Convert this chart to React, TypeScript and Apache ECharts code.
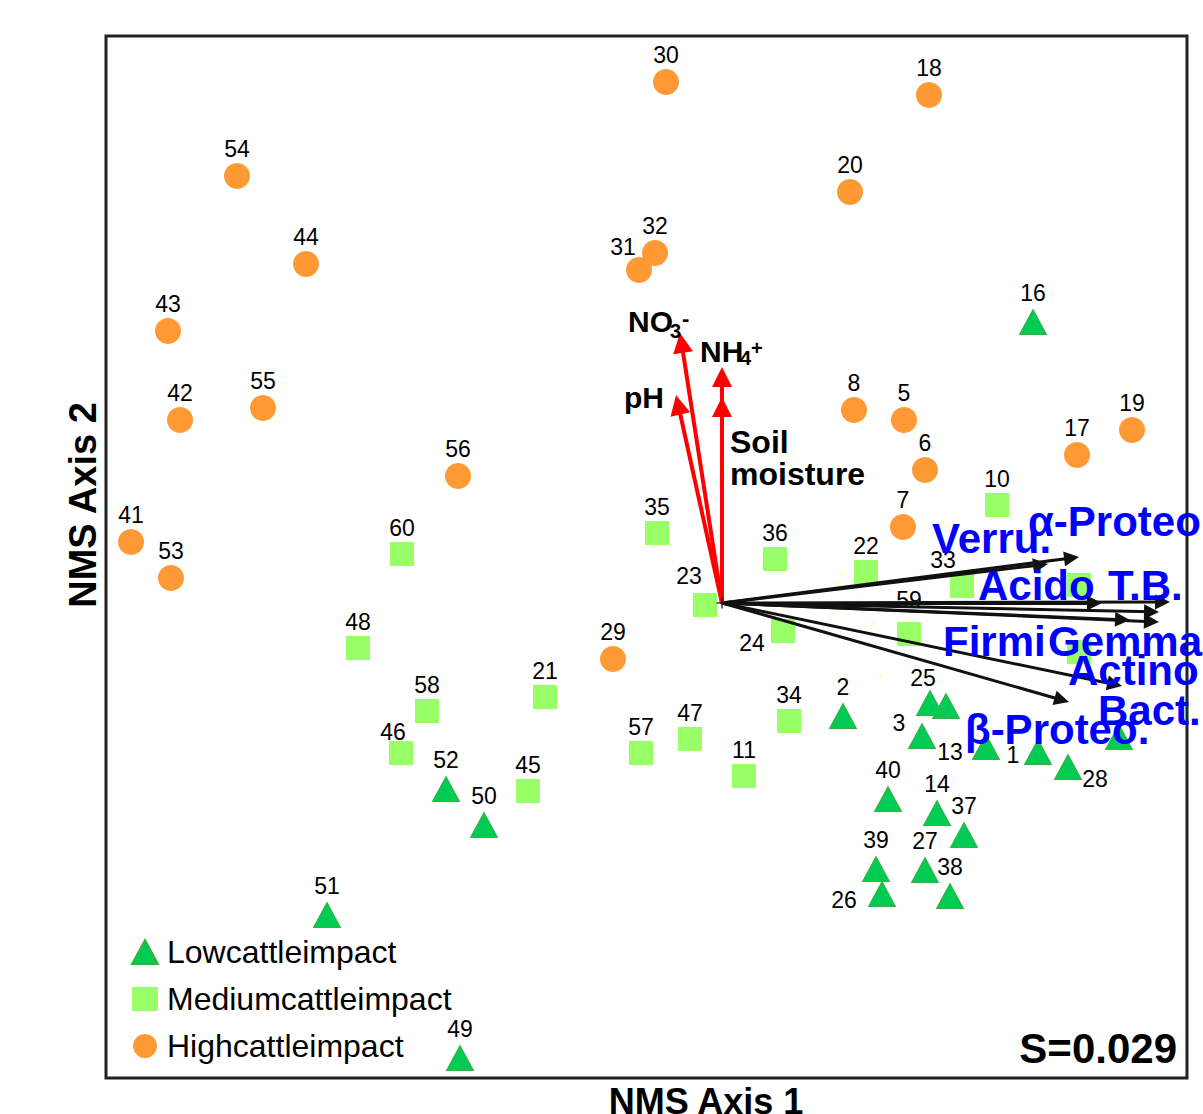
import React, { useEffect, useRef } from 'react';
import * as echarts from 'echarts';

// ---- Sample scores (NMS axis 1, NMS axis 2), id '' = label hidden in the original ----
const lowImpact: [string, number, number][] = [
  ['16', 31.1, 28.1], ['2', 12.1, -11.3], ['', 22.4, -10.3], ['25', 20.8, -10.0],
  ['3', 20.0, -13.3], ['13', 26.4, -14.4], ['1', 31.6, -14.9], ['28', 34.6, -16.4],
  ['', 39.7, -13.4], ['40', 16.6, -19.6], ['14', 21.5, -21.0], ['37', 24.2, -23.2],
  ['39', 15.4, -26.6], ['27', 20.3, -26.7], ['26', 16.0, -29.1], ['38', 22.8, -29.3],
  ['52', -27.6, -18.6], ['50', -23.8, -22.2], ['51', -39.5, -31.2], ['49', -26.2, -45.5],
];
const mediumImpact: [string, number, number][] = [
  ['10', 27.5, 9.8], ['35', -6.5, 7.0], ['60', -32.0, 4.9], ['36', 5.3, 4.4],
  ['22', 14.4, 3.1], ['33', 24.0, 1.7], ['', 35.7, 1.8], ['23', -1.7, -0.2],
  ['24', 6.1, -2.8], ['59', 18.7, -3.1], ['', 35.7, -4.9], ['48', -36.4, -4.5],
  ['21', -17.7, -9.4], ['58', -29.5, -10.8], ['46', -32.1, -15.0], ['57', -8.1, -15.0],
  ['47', -3.2, -13.6], ['34', 6.7, -11.8], ['11', 2.2, -17.3], ['45', -19.4, -18.8],
];
const highImpact: [string, number, number][] = [
  ['30', -5.6, 52.1], ['18', 20.7, 50.8], ['54', -48.5, 42.7], ['20', 12.8, 41.1],
  ['32', -6.7, 35.0], ['31', -8.3, 33.3], ['44', -41.6, 33.9], ['43', -55.4, 27.2],
  ['42', -54.2, 18.3], ['55', -45.9, 19.5], ['8', 13.2, 19.3], ['5', 18.2, 18.3],
  ['6', 20.3, 13.3], ['17', 35.5, 14.8], ['19', 41.0, 17.3], ['56', -26.4, 12.7],
  ['7', 18.1, 7.6], ['41', -59.1, 6.1], ['53', -55.1, 2.5], ['29', -10.9, -5.6],
];
// faint background points near the origin
const faintPoints: [number, number][] = [
  [12.0, 3.1], [11.5, 2.0], [13.5, 0.2], [11.5, -0.7], [15.1, -2.0], [14.9, -2.8], [15.8, -7.2],
];

// ---- Environmental vectors (red) ----
const envNames = ['NO3-', 'pH', 'NH4+', 'Soil moisture'];
const envX = [-4.2, -4.6, 0.0, 0.0];
const envY = [27.0, 20.8, 23.6, 20.6];

// ---- Taxon vectors (black) ----
const taxaNames = ['α-Proteo', 'Verru.', 'Acido', 'T.B.', 'Gemma', 'Firmi', 'Bact.', 'Actino', 'β-Proteo.'];
const taxaX = [35.7, 32.6, 38.0, 44.8, 43.7, 43.7, 40.8, 40.0, 34.7];
const taxaY = [4.6, 3.9, 0.0, 0.1, -0.9, -1.9, -1.7, -8.3, -9.9];

const seriesNames = ['Lowcattleimpact', 'Mediumcattleimpact', 'Highcattleimpact'];
const stressText = 'S=0.029';

// ---- layout / style config ----
const X_MIN = -61.6, X_MAX = 46.5, Y_MIN = -47.5, Y_MAX = 56.7;
const GRID = { left: 106, top: 36, width: 1081, height: 1042 };
const FONT = '"Liberation Sans", Arial, Helvetica, sans-serif';
const labelOffsets: Record<string, [number, number]> = {
  '31': [-16, -23], '3': [-23, -13], '13': [-36, 5], '1': [-25, 3], '28': [27, 12],
  '26': [-38, 6], '24': [-31, 12], '23': [-16, -29], '33': [-19, -26], '59': [0, -34],
  '46': [-8, -21], '25': [-7, -25],
};

function pointData(rows: [string, number, number][]) {
  return rows.map(([id, x, y]) => {
    const item: any = { name: id, value: [x, y] };
    if (!id) item.label = { show: false };
    else if (labelOffsets[id]) item.label = { position: 'inside', offset: labelOffsets[id] };
    return item;
  });
}

function arrows(xs: number[], ys: number[], color: string, width: number, head: number) {
  const pxX = GRID.width / (X_MAX - X_MIN);
  const pxY = GRID.height / (Y_MAX - Y_MIN);
  return {
    type: 'lines',
    coordinateSystem: 'cartesian2d',
    z: 5,
    silent: true,
    symbol: ['none', 'triangle'],
    symbolSize: head,
    lineStyle: { color, width, opacity: 1, curveness: 0 },
    itemStyle: { color },
    data: xs.map((x, i) => {
      const y = ys[i];
      const len = Math.hypot(x * pxX, y * pxY);
      const k = (len - head * 0.5) / len;
      return { coords: [[0, 0], [x * k, y * k]] };
    }),
  };
}

function txt(text: string, x: number, y: number, size: number, color = '#000', bold = true, align = 'left', rotation = 0) {
  return {
    type: 'text', x, y, rotation, z: 100, silent: true,
    style: { text, fill: color, fontSize: size, fontWeight: bold ? 'bold' : 'normal', fontFamily: FONT, align, verticalAlign: 'middle' },
  };
}

export default function App() {
  const ref = useRef<HTMLDivElement>(null);
  useEffect(() => {
    const chart = echarts.init(ref.current!, null, { renderer: 'svg' });
    const numLabel = { show: true, position: 'top', distance: 3, formatter: '{b}', fontSize: 23, color: '#000', fontFamily: FONT };
    const BLUE = '#0000FF';
    const BLACK = '#000';
    const TAXA_FS = 42;
    chart.setOption({
      animation: false,
      backgroundColor: '#fff',
      grid: { ...GRID, show: true, borderColor: '#222', borderWidth: 3, backgroundColor: 'transparent' },
      xAxis: { type: 'value', min: X_MIN, max: X_MAX, axisLine: { show: false }, axisTick: { show: false }, axisLabel: { show: false }, splitLine: { show: false } },
      yAxis: { type: 'value', min: Y_MIN, max: Y_MAX, axisLine: { show: false }, axisTick: { show: false }, axisLabel: { show: false }, splitLine: { show: false } },
      legend: {
        data: seriesNames, orient: 'vertical', left: 131, top: 936, padding: 0,
        itemWidth: 26, itemHeight: 24, itemGap: 15, selectedMode: false,
        textStyle: { fontSize: 32, color: '#000', fontFamily: FONT, padding: [10, 0, 0, 4] },
      },
      series: [
        {
          type: 'scatter', name: 'faint', z: 1, silent: true, symbol: 'triangle', symbolSize: 7,
          itemStyle: { color: '#ffffc4' }, data: faintPoints,
        },
        {
          type: 'scatter', name: seriesNames[2], z: 2, symbol: 'circle', symbolSize: 26,
          itemStyle: { color: '#FF9933', opacity: 1 }, label: numLabel, data: pointData(highImpact),
        },
        {
          type: 'scatter', name: seriesNames[1], z: 2, symbol: 'rect', symbolSize: 24,
          itemStyle: { color: '#99FF66', opacity: 1 }, label: numLabel, data: pointData(mediumImpact),
        },
        {
          type: 'scatter', name: seriesNames[0], z: 2, symbol: 'triangle', symbolSize: [27, 25],
          itemStyle: { color: '#00CC55', borderColor: '#3fae3f', borderWidth: 1, opacity: 1 },
          label: { ...numLabel, distance: 5 }, data: pointData(lowImpact),
        },
        arrows(taxaX, taxaY, '#111', 3, 15),
        arrows(envX, envY, '#FF0000', 4, 20),
        {
          type: 'scatter', name: 'origin', z: 6, silent: true,
          symbol: 'path://M0,5L10,5M5,0L5,10', symbolSize: 11,
          itemStyle: { color: 'none', borderColor: '#000', borderWidth: 1.5 }, data: [[0, 0]],
        },
      ],
      graphic: [
        // taxon labels
        txt(taxaNames[1], 932, 538, TAXA_FS, BLUE),
        txt(taxaNames[0], 1028, 521, TAXA_FS, BLUE),
        txt(taxaNames[2], 978, 585, TAXA_FS, BLUE),
        txt(taxaNames[3], 1108, 585, TAXA_FS, BLUE),
        txt(taxaNames[5], 943, 641, TAXA_FS, BLUE),
        txt(taxaNames[4], 1048, 641, TAXA_FS, BLUE),
        txt(taxaNames[7], 1068, 670, TAXA_FS, BLUE),
        txt(taxaNames[6], 1098, 710, TAXA_FS, BLUE),
        txt(taxaNames[8], 965, 729, TAXA_FS, BLUE),
        // environmental labels
        txt('NO', 628, 321, 30, BLACK),
        txt('3', 670, 331, 20, BLACK),
        txt('-', 682, 318, 22, BLACK),
        txt('NH', 700, 351, 30, BLACK),
        txt('4', 740, 358, 20, BLACK),
        txt('+', 751, 348, 20, BLACK),
        txt(envNames[1], 624, 397, 30, BLACK),
        txt('Soil', 730, 442, 32, BLACK),
        txt('moisture', 730, 474, 32, BLACK),
        // stress, axis titles
        txt(stressText, 1177, 1048, 42, BLACK, true, 'right'),
        txt('NMS Axis 1', 706, 1101, 36, BLACK, true, 'center'),
        txt('NMS Axis 2', 83, 505, 38, BLACK, true, 'center', Math.PI / 2),
      ],
    });
    return () => chart.dispose();
  }, []);
  return <div ref={ref} style={{ position: 'fixed', left: 0, top: 0, width: 1203, height: 1114, background: '#fff' }} />;
}
